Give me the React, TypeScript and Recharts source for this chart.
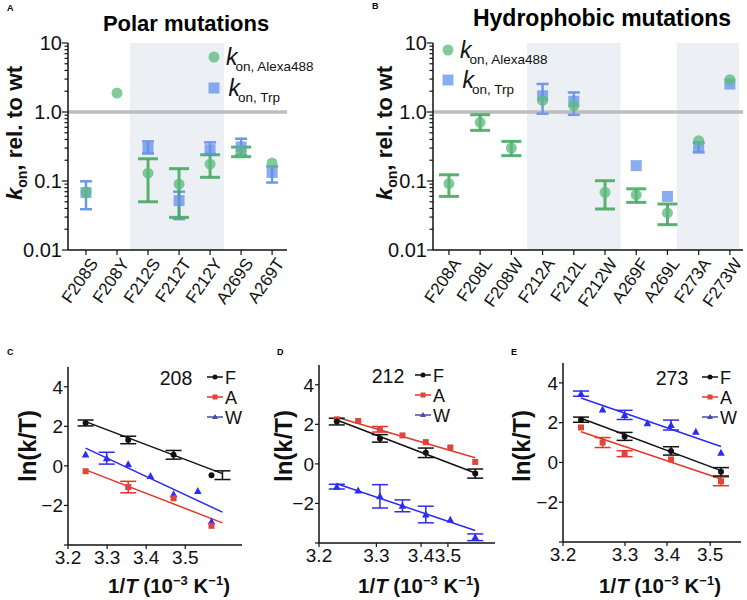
import React from 'react';
import { ComposedChart, Scatter, Line, XAxis, YAxis, ErrorBar, ReferenceArea, ReferenceLine } from 'recharts';

const W = 747;
const H = 600;
const FONT = '"Liberation Sans", Arimo, Arial, sans-serif';

// ---------- Panel A: polar mutations ----------
const polarCategories = ['F208S', 'F208Y', 'F212S', 'F212T', 'F212Y', 'A269S', 'A269T'];
const polarAlexa = [0.069, 1.88, 0.13, 0.09, 0.175, 0.27, 0.182];
const polarAlexaLow = [null, null, 0.05, 0.0297, 0.113, 0.225, null];
const polarAlexaHigh = [null, null, 0.21, 0.151, 0.24, 0.31, null];
const polarTrp = [0.068, null, 0.3, 0.052, 0.284, 0.311, 0.133];
const polarTrpLow = [0.039, null, 0.25, 0.028, 0.245, 0.24, 0.095];
const polarTrpHigh = [0.099, null, 0.375, 0.07, 0.363, 0.41, 0.163];
const polarShade = [1.42, 4.45];

// ---------- Panel B: hydrophobic mutations ----------
const hydroCategories = ['F208A', 'F208L', 'F208W', 'F212A', 'F212L', 'F212W', 'A269F', 'A269L', 'F273A', 'F273W'];
const hydroAlexa = [0.0914, 0.708, 0.3, 1.47, 1.23, 0.0686, 0.063, 0.0344, 0.384, 2.94];
const hydroAlexaLow = [0.0598, 0.542, 0.233, null, null, 0.0393, 0.049, 0.0233, null, null];
const hydroAlexaHigh = [0.123, 0.912, 0.375, null, null, 0.101, 0.077, 0.0464, null, null];
const hydroTrp = [null, null, null, 1.72, 1.43, null, 0.167, 0.0598, 0.318, 2.54];
const hydroTrpLow = [null, null, null, 0.945, 0.91, null, null, null, 0.26, null];
const hydroTrpHigh = [null, null, null, 2.55, 1.92, null, null, null, 0.36, null];
const hydroShade1 = [2.5, 5.5];
const hydroShade2 = [7.3, 9.3];

// log axis ticks
const logMajor = [0.01, 0.1, 1, 10];
const logMajorLabels = ['0.01', '0.1', '1.0', '10'];
const logMinorMultipliers = [2, 3, 4, 5, 6, 7, 8, 9];

// ---------- Panels C-E: Arrhenius plots ----------
const arrDomain = [3.2, 3.645];
const fitX = [3.245, 3.595];

// C: 208
const c208FX = [3.245, 3.354, 3.47, 3.567];
const c208FY = [2.17, 1.31, 0.56, -0.47];
const c208FErr = [0.15, 0.19, 0.22, null];
const c208FErrOnlyX = [3.595];
const c208FErrOnlyY = [-0.47];
const c208FErrOnlyErr = [0.22];
const c208AX = [3.245, 3.354, 3.47, 3.567];
const c208AY = [-0.27, -1.07, -1.64, -3.03];
const c208AErr = [null, 0.29, null, null];
const c208WX = [3.245, 3.299, 3.354, 3.411, 3.47, 3.532, 3.567];
const c208WY = [0.58, 0.39, 0.08, -0.51, -1.44, -1.27, -2.81];
const c208WErr = [null, 0.3, null, null, null, null, null];
const c208FitF = [2.24, -0.39];
const c208FitA = [-0.2, -2.88];
const c208FitW = [0.9, -2.34];
const cTicks = [3.2, 3.3, 3.4, 3.5];

// D: 212
const d212FX = [3.245, 3.354, 3.47, 3.595];
const d212FY = [2.14, 1.29, 0.56, -0.49];
const d212FErr = [0.17, 0.19, 0.24, 0.23];
const d212AX = [3.245, 3.299, 3.354, 3.411, 3.47, 3.532, 3.595];
const d212AY = [2.25, 2.17, 1.75, 1.44, 1.1, 0.83, 0.1];
const d212AErr = [null, null, 0.14, null, null, null, null];
const d212WX = [3.245, 3.299, 3.354, 3.411, 3.47, 3.532, 3.595];
const d212WY = [-1.15, -1.34, -1.64, -2.12, -2.56, -2.83, -3.71];
const d212WErr = [0.12, null, 0.59, 0.3, 0.42, null, 0.17];
const d212FitF = [2.22, -0.46];
const d212FitA = [2.36, 0.31];
const d212FitW = [-1.0, -3.37];
const dTicks = [3.2, 3.345, 3.458, 3.526];

// E: 273
const e273FX = [3.245, 3.354, 3.47, 3.595];
const e273FY = [2.15, 1.31, 0.58, -0.47];
const e273FErr = [0.13, 0.2, 0.21, 0.21];
const e273AX = [3.245, 3.299, 3.354, 3.47, 3.595];
const e273AY = [1.76, 1.0, 0.44, 0.15, -0.95];
const e273AErr = [null, 0.25, 0.15, null, 0.22];
const e273WX = [3.245, 3.299, 3.354, 3.411, 3.47, 3.532, 3.595];
const e273WY = [3.46, 2.66, 2.39, 1.97, 1.88, 1.54, 0.49];
const e273WErr = [0.13, null, 0.23, null, 0.25, null, null];
const e273FitF = [2.22, -0.41];
const e273FitA = [1.54, -0.83];
const e273FitW = [3.24, 0.8];
const eTicks = [3.2, 3.355, 3.46, 3.568];

const arrTickLabels = ['3.2', '3.3', '3.4', '3.5'];
const lnTicks = [-4, -2, 0, 2, 4];

// colours
const GREEN = '#5dbb7e';
const GREEN_ERR = '#49a863';
const BLUE = '#6391ea';
const BLUE_ERR = '#6e98ea';
const SHADE = '#eceff3';
const BLACK = '#111';
const RED = '#e0453a';
const RED_LINE = '#e2352b';
const TRI = '#2d2df2';
const TRI_LINE = '#2a2af0';

// ---------- helpers ----------
type Pt = { x: number; y: number; err: number[] | number | null };

function catPoints(vals: (number | null)[], lows: (number | null)[], highs: (number | null)[]): Pt[] {
  const out: Pt[] = [];
  vals.forEach((v, i) => {
    if (v == null) return;
    const lo = lows[i];
    const hi = highs[i];
    out.push({ x: i, y: v, err: lo == null || hi == null ? null : [v - lo, hi - v] });
  });
  return out;
}

function xyPoints(xs: number[], ys: number[], errs?: (number | null)[]): Pt[] {
  return xs.map((x, i) => ({ x, y: ys[i], err: errs && errs[i] != null ? (errs[i] as number) : null }));
}

function fitPoints(ys: number[]) {
  return fitX.map((x, i) => ({ x, y: ys[i] }));
}

const logTicks: number[] = [];
logMajor.forEach((m, i) => {
  logTicks.push(m);
  if (i < logMajor.length - 1) logMinorMultipliers.forEach((k) => logTicks.push(+(m * k).toPrecision(3)));
});

const YAXIS_W = 50;
const XAXIS_H = 40;
const margins = (l: number, r: number, t: number, b: number) => ({
  left: l - YAXIS_W,
  right: W - r,
  top: t,
  bottom: H - b - XAXIS_H,
});

function LogTick(props: any) {
  const { x, y, payload } = props;
  const v = payload.value;
  const idx = logMajor.findIndex((m) => Math.abs(m - v) < m * 1e-6);
  const major = idx >= 0;
  return (
    <g>
      <line x1={x} x2={x - (major ? 6 : 3.5)} y1={y} y2={y} stroke={BLACK} strokeWidth={1.2} />
      {major && (
        <text x={x - 6} y={y} dy="0.36em" textAnchor="end" fontSize={20} fill={BLACK} fontFamily={FONT}>
          {logMajorLabels[idx]}
        </text>
      )}
    </g>
  );
}

function makeCatTick(labels: string[]) {
  return (props: any) => {
    const { x, y, payload } = props;
    const lab = labels[Math.round(payload.value)];
    return (
      <g>
        <line x1={x} x2={x} y1={y} y2={y + 5} stroke={BLACK} strokeWidth={1.2} />
        <text
          transform={`translate(${x + 8},${y + 10}) rotate(-55)`}
          textAnchor="end"
          dy="0.35em"
          fontSize={17}
          fill={BLACK}
          fontFamily={FONT}
        >
          {lab}
        </text>
      </g>
    );
  };
}

const circleShape = (p: any) => <circle cx={p.cx} cy={p.cy} r={5.5} fill={GREEN} fillOpacity={0.78} />;
const squareShape = (p: any) => (
  <rect x={p.cx - 5.5} y={p.cy - 5.5} width={11} height={11} fill={BLUE} fillOpacity={0.75} />
);
const dotShape = (p: any) => <circle cx={p.cx} cy={p.cy} r={3} fill={BLACK} />;
const redSquareShape = (p: any) => <rect x={p.cx - 3} y={p.cy - 3} width={6} height={6} fill={RED} />;
const triShape = (p: any) => (
  <polygon points={`${p.cx},${p.cy - 4} ${p.cx - 3.8},${p.cy + 3} ${p.cx + 3.8},${p.cy + 3}`} fill={TRI} />
);
const noShape = () => <g />;

const polarGreen = catPoints(polarAlexa, polarAlexaLow, polarAlexaHigh);
const polarBlue = catPoints(polarTrp, polarTrpLow, polarTrpHigh);
const hydroGreen = catPoints(hydroAlexa, hydroAlexaLow, hydroAlexaHigh);
const hydroBlue = catPoints(hydroTrp, hydroTrpLow, hydroTrpHigh);

function KonChart(props: {
  plot: [number, number, number, number];
  cats: string[];
  domain: [number, number];
  shades: number[][];
  green: Pt[];
  blue: Pt[];
}) {
  const { plot, cats, domain, shades, green, blue } = props;
  const ticks = cats.map((_, i) => i);
  return (
    <ComposedChart width={W} height={H} margin={margins(plot[0], plot[1], plot[2], plot[3])}>
      <XAxis
        type="number"
        dataKey="x"
        domain={domain}
        allowDataOverflow
        ticks={ticks}
        interval={0}
        tick={makeCatTick(cats)}
        tickLine={false}
        tickSize={0}
        tickMargin={0}
        height={XAXIS_H}
        axisLine={{ stroke: BLACK, strokeWidth: 1.5 }}
      />
      <YAxis
        type="number"
        dataKey="y"
        scale="log"
        domain={[0.01, 10]}
        allowDataOverflow
        ticks={logTicks}
        interval={0}
        tick={<LogTick />}
        tickLine={false}
        tickSize={0}
        tickMargin={0}
        width={YAXIS_W}
        axisLine={{ stroke: BLACK, strokeWidth: 1.5 }}
      />
      {shades.map((s, i) => (
        <ReferenceArea key={i} x1={s[0]} x2={s[1]} y1={0.01} y2={10} fill={SHADE} fillOpacity={1} stroke="none" ifOverflow="hidden" />
      ))}
      <ReferenceLine y={1} stroke="#bdbdbd" strokeWidth={3.5} />
      <Scatter data={blue} dataKey="y" shape={squareShape} isAnimationActive={false}>
        <ErrorBar dataKey="err" direction="y" width={6} stroke={BLUE_ERR} strokeWidth={2.5} isAnimationActive={false} />
      </Scatter>
      <Scatter data={green} dataKey="y" shape={circleShape} isAnimationActive={false}>
        <ErrorBar dataKey="err" direction="y" width={10} stroke={GREEN_ERR} strokeWidth={3} strokeOpacity={0.9} isAnimationActive={false} />
      </Scatter>
    </ComposedChart>
  );
}

function ArrChart(props: {
  plot: [number, number, number, number];
  ticks: number[];
  F: Pt[];
  Fextra?: Pt[];
  A: Pt[];
  Wp: Pt[];
  fitF: number[];
  fitA: number[];
  fitW: number[];
}) {
  const { plot, ticks, F, Fextra, A, Wp, fitF, fitA, fitW } = props;
  return (
    <ComposedChart width={W} height={H} margin={margins(plot[0], plot[1], plot[2], plot[3])}>
      <XAxis
        type="number"
        dataKey="x"
        domain={arrDomain}
        allowDataOverflow
        ticks={ticks}
        interval={0}
        tickFormatter={(v: number) => arrTickLabels[ticks.indexOf(v)]}
        tick={{ fontSize: 19, fill: BLACK }}
        tickSize={4}
        tickMargin={2}
        tickLine={{ stroke: BLACK, strokeWidth: 1.2 }}
        height={XAXIS_H}
        axisLine={{ stroke: BLACK, strokeWidth: 1.5 }}
      />
      <YAxis
        type="number"
        dataKey="y"
        domain={[-4, 5]}
        allowDataOverflow
        ticks={lnTicks}
        interval={0}
        tickFormatter={(v: number) => (v === -4 ? '' : v < 0 ? '\u2212' + Math.abs(v) : String(v))}
        tick={{ fontSize: 19, fill: BLACK }}
        tickSize={4}
        tickMargin={1}
        tickLine={{ stroke: BLACK, strokeWidth: 1.2 }}
        width={YAXIS_W}
        axisLine={{ stroke: BLACK, strokeWidth: 1.5 }}
      />
      <Line data={fitPoints(fitF)} dataKey="y" stroke={BLACK} strokeWidth={1.5} dot={false} isAnimationActive={false} />
      <Line data={fitPoints(fitA)} dataKey="y" stroke={RED_LINE} strokeWidth={1.5} dot={false} isAnimationActive={false} />
      <Line data={fitPoints(fitW)} dataKey="y" stroke={TRI_LINE} strokeWidth={1.5} dot={false} isAnimationActive={false} />
      <Scatter data={Wp} dataKey="y" shape={triShape} isAnimationActive={false}>
        <ErrorBar dataKey="err" direction="y" width={8} stroke={TRI} strokeWidth={1.5} isAnimationActive={false} />
      </Scatter>
      <Scatter data={A} dataKey="y" shape={redSquareShape} isAnimationActive={false}>
        <ErrorBar dataKey="err" direction="y" width={8} stroke={RED_LINE} strokeWidth={1.5} isAnimationActive={false} />
      </Scatter>
      <Scatter data={F} dataKey="y" shape={dotShape} isAnimationActive={false}>
        <ErrorBar dataKey="err" direction="y" width={8} stroke={BLACK} strokeWidth={1.5} isAnimationActive={false} />
      </Scatter>
      {Fextra && (
        <Scatter data={Fextra} dataKey="y" shape={noShape} isAnimationActive={false}>
          <ErrorBar dataKey="err" direction="y" width={8} stroke={BLACK} strokeWidth={1.5} isAnimationActive={false} />
        </Scatter>
      )}
    </ComposedChart>
  );
}

function KonLabel({ x, y }: { x: number; y: number }) {
  return (
    <text transform={`translate(${x},${y}) rotate(-90)`} textAnchor="middle" fontWeight="bold" fontSize={22.5} fill={BLACK}>
      <tspan fontStyle="italic">k</tspan>
      <tspan fontSize={14} dy={5}>on</tspan>
      <tspan dy={-5}>, rel. to wt</tspan>
    </text>
  );
}

function LnLabel({ x, y }: { x: number; y: number }) {
  return (
    <text transform={`translate(${x},${y}) rotate(-90)`} textAnchor="middle" fontWeight="bold" fontSize={24} fill={BLACK}>
      ln(k/T)
    </text>
  );
}

function InvTLabel({ x, y }: { x: number; y: number }) {
  return (
    <text x={x} y={y} textAnchor="middle" fontWeight="bold" fontSize={20.5} fill={BLACK}>
      1/<tspan fontStyle="italic">T</tspan> (10<tspan fontSize={13} dy={-8}>{'\u22123'}</tspan>
      <tspan dy={8}> K</tspan>
      <tspan fontSize={13} dy={-8}>{'\u22121'}</tspan>
      <tspan dy={8}>)</tspan>
    </text>
  );
}

function KonLegend({ x, y, gap }: { x: number; y: number; gap: number }) {
  return (
    <g>
      <circle cx={x} cy={y} r={5.5} fill={GREEN} fillOpacity={0.78} />
      <text x={x + 12} y={y + 7.5} fontSize={23} fontStyle="italic" fill={BLACK}>k</text>
      <text x={x + 21.5} y={y + 13.5} fontSize={13.5} fill={BLACK}>on, Alexa488</text>
      <rect x={x - 5.5} y={y + gap - 5.5} width={11} height={11} fill={BLUE} fillOpacity={0.75} />
      <text x={x + 14.5} y={y + gap + 8} fontSize={23} fontStyle="italic" fill={BLACK}>k</text>
      <text x={x + 24} y={y + gap + 13.5} fontSize={13.5} fill={BLACK}>on, Trp</text>
    </g>
  );
}

function ArrLegend({ num, numX, lx, y }: { num: string; numX: number; lx: number; y: number }) {
  const rows = [
    { lab: 'F', color: BLACK, marker: 'dot' },
    { lab: 'A', color: RED_LINE, marker: 'sq' },
    { lab: 'W', color: '#4b4ba8', marker: 'tri' },
  ];
  return (
    <g>
      <text x={numX} y={y + 8} textAnchor="middle" fontSize={19.5} fill={BLACK}>{num}</text>
      {rows.map((r, i) => {
        const cy = y + i * 20;
        const cx = lx + 8;
        return (
          <g key={r.lab}>
            <line x1={lx} x2={lx + 16} y1={cy} y2={cy} stroke={r.color} strokeWidth={1.5} />
            {r.marker === 'dot' && <circle cx={cx} cy={cy} r={2.5} fill={BLACK} />}
            {r.marker === 'sq' && <rect x={cx - 2.5} y={cy - 2.5} width={5} height={5} fill={RED} />}
            {r.marker === 'tri' && <polygon points={`${cx},${cy - 3} ${cx - 3},${cy + 2} ${cx + 3},${cy + 2}`} fill="#4b4ba8" />}
            <text x={lx + 18} y={cy + 6.5} fontSize={18} fill={BLACK}>{r.lab}</text>
          </g>
        );
      })}
    </g>
  );
}

const layer: React.CSSProperties = { position: 'absolute', left: 0, top: 0, width: W, height: H };

export default function App() {
  return (
    <div style={{ position: 'absolute', left: 0, top: 0, width: W, height: H, background: '#fff', fontFamily: FONT, overflow: 'hidden' }}>
      <div style={layer}>
        <KonChart plot={[68, 287, 43, 250]} cats={polarCategories} domain={[-0.58, 6.48]} shades={[polarShade]} green={polarGreen} blue={polarBlue} />
      </div>
      <div style={layer}>
        <KonChart plot={[433, 743, 43, 250]} cats={hydroCategories} domain={[-0.51, 9.42]} shades={[hydroShade1, hydroShade2]} green={hydroGreen} blue={hydroBlue} />
      </div>
      <div style={layer}>
        <ArrChart
          plot={[68, 242, 367, 545]}
          ticks={cTicks}
          F={xyPoints(c208FX, c208FY, c208FErr)}
          Fextra={xyPoints(c208FErrOnlyX, c208FErrOnlyY, c208FErrOnlyErr)}
          A={xyPoints(c208AX, c208AY, c208AErr)}
          Wp={xyPoints(c208WX, c208WY, c208WErr)}
          fitF={c208FitF}
          fitA={c208FitA}
          fitW={c208FitW}
        />
      </div>
      <div style={layer}>
        <ArrChart
          plot={[319, 495, 365, 543]}
          ticks={dTicks}
          F={xyPoints(d212FX, d212FY, d212FErr)}
          A={xyPoints(d212AX, d212AY, d212AErr)}
          Wp={xyPoints(d212WX, d212WY, d212WErr)}
          fitF={d212FitF}
          fitA={d212FitA}
          fitW={d212FitW}
        />
      </div>
      <div style={layer}>
        <ArrChart
          plot={[563, 741, 363, 542]}
          ticks={eTicks}
          F={xyPoints(e273FX, e273FY, e273FErr)}
          A={xyPoints(e273AX, e273AY, e273AErr)}
          Wp={xyPoints(e273WX, e273WY, e273WErr)}
          fitF={e273FitF}
          fitA={e273FitA}
          fitW={e273FitW}
        />
      </div>
      <svg style={{ ...layer, pointerEvents: 'none' }} width={W} height={H} fontFamily={FONT}>
        <text x={7} y={11} fontSize={9} fontWeight="bold">A</text>
        <text x={372} y={9} fontSize={9} fontWeight="bold">B</text>
        <text x={7} y={355} fontSize={9} fontWeight="bold">C</text>
        <text x={277} y={355} fontSize={9} fontWeight="bold">D</text>
        <text x={511} y={355} fontSize={9} fontWeight="bold">E</text>
        <text x={186} y={31} textAnchor="middle" fontSize={22} fontWeight="bold">Polar mutations</text>
        <text x={602} y={26} textAnchor="middle" fontSize={23} fontWeight="bold">Hydrophobic mutations</text>
        <KonLabel x={22} y={133} />
        <KonLabel x={392} y={133} />
        <KonLegend x={214} y={57} gap={31} />
        <KonLegend x={448} y={50} gap={30} />
        <LnLabel x={36} y={446} />
        <LnLabel x={292} y={446} />
        <LnLabel x={530} y={446} />
        <InvTLabel x={169} y={593} />
        <InvTLabel x={419} y={593} />
        <InvTLabel x={660} y={593} />
        <ArrLegend num="208" numX={176} lx={207} y={377} />
        <ArrLegend num="212" numX={388} lx={415} y={375} />
        <ArrLegend num="273" numX={672} lx={702} y={377} />
      </svg>
    </div>
  );
}
